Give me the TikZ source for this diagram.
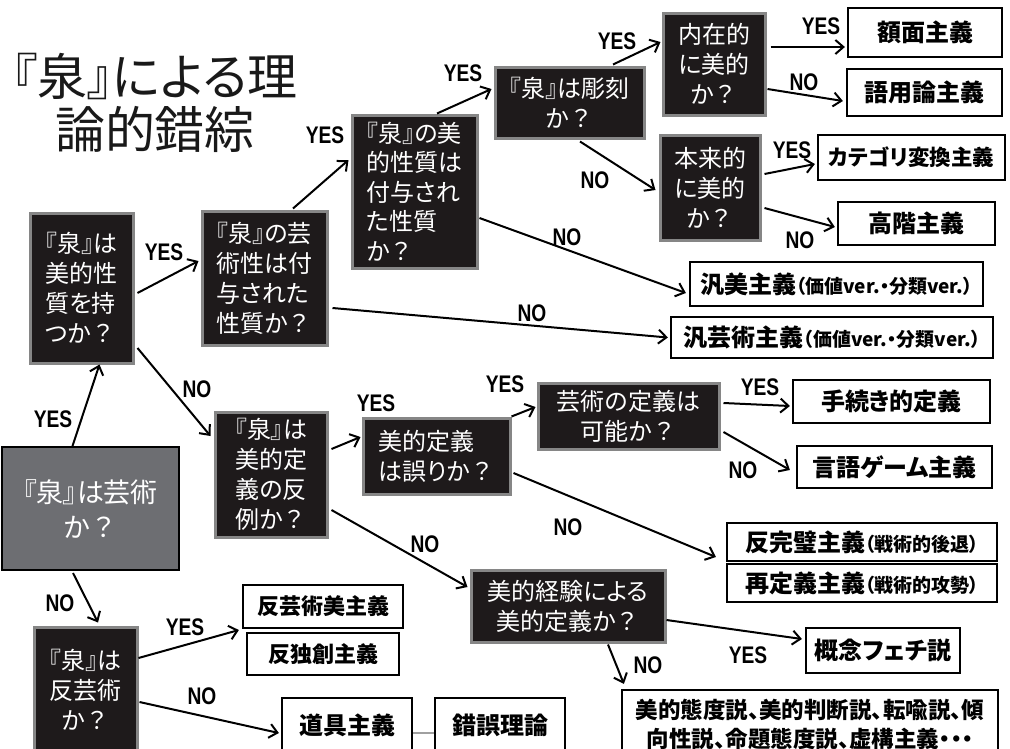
\documentclass[tikz,border=0pt]{standalone}
\usepackage{fontspec}
\newfontfamily\jp[RawFeature=+palt]{Noto Sans CJK JP}
\newfontfamily\jpfw{Noto Sans CJK JP}
\newfontfamily\lbl[FakeStretch=0.8]{Liberation Sans}
\usetikzlibrary{arrows.meta,calc}
\definecolor{qfill}{HTML}{1E1A1B}
\definecolor{qedge}{HTML}{868686}
\definecolor{sfill}{HTML}{6D6E72}
\definecolor{lnk}{HTML}{A0A0A0}
\tikzset{
  qbox/.style={draw=qedge, line width=3pt, fill=qfill, text=white, inner sep=0pt, align=center,
    font=\jp\fontsize{24}{30}\selectfont},
  sbox/.style={draw=black, line width=2pt, fill=sfill, text=white, inner sep=0pt, align=center,
    font=\jp\fontsize{27}{35}\selectfont},
  rbox/.style={draw=black, line width=2.2pt, fill=white, text=black, inner sep=0pt, align=center,
    font=\jp\bfseries\fontsize{24}{30}\selectfont},
  yn/.style={font=\lbl\bfseries\fontsize{24}{24}\selectfont, inner sep=0pt, text=black},
  arr/.style={-{Straight Barb[length=8pt,width=14pt]}, line width=2pt, draw=black},
  small/.style={font=\jp\bfseries\fontsize{#1}{#1}\selectfont},
}
\newcommand{\paren}[1]{{\fontsize{19}{19}\selectfont #1}}
\newcommand{\qm}{{\jpfw ？}}
\begin{document}
\begin{tikzpicture}[x=1pt,y=-1pt]
\useasboundingbox (0,0) rectangle (1010,748);
\clip (0,0) rectangle (1010,748);
\fill[white] (0,0) rectangle (1010,748);

% title
\node[font=\jp\fontsize{50}{53}\selectfont, align=center, inner sep=2pt, text=black!90] (title) at (155,103) {『泉』による理\\論的錯綜};

% question boxes
\node[sbox, minimum width=177pt, minimum height=123pt] (start) at (90.5,508.5) {『泉』は芸術\\か\qm};
\node[qbox, align=left, minimum width=103pt, minimum height=150pt] (q1) at (81.5,288) {『泉』は\\美的性\\質を持\\つか\qm};
\node[qbox, align=left, minimum width=125pt, minimum height=134pt] (q2) at (264.5,278) {『泉』の芸\\術性は付\\与された\\性質か\qm};
\node[qbox, align=left, minimum width=125pt, minimum height=153pt, font=\jp\fontsize{24}{29.5}\selectfont] (q3) at (414.5,191.5) {『泉』の美\\的性質は\\付与され\\た性質\\か\qm};
\node[qbox, minimum width=149pt, minimum height=71pt] (q4) at (569.5,102.5) {『泉』は彫刻\\か\qm};
\node[qbox, minimum width=102pt, minimum height=102pt] (q5) at (714,64) {内在的\\に美的\\か\qm};
\node[qbox, minimum width=100pt, minimum height=105pt] (q6) at (710,187.5) {本来的\\に美的\\か\qm};
\node[qbox, minimum width=112pt, minimum height=125pt] (q16) at (271,474.5) {『泉』は\\美的定\\義の反\\例か\qm};
\node[qbox, align=left, minimum width=147pt, minimum height=76pt] (q17) at (436.5,456) {美的定義\\は誤りか\qm};
\node[qbox, minimum width=181pt, minimum height=66pt] (q13) at (628.5,416) {芸術の定義は\\可能か\qm};
\node[qbox, minimum width=194pt, minimum height=72pt] (q26) at (568,606) {美的経験による\\美的定義か\qm};
\node[qbox, minimum width=103pt, minimum height=125pt] (q19) at (85.5,689.5) {『泉』は\\反芸術\\か\qm};

% result boxes
\node[rbox, minimum width=154pt, minimum height=49pt] (r1) at (925,32.5) {額面主義};
\node[rbox, minimum width=155pt, minimum height=47pt] (r2) at (924.5,92.5) {語用論主義};
\node[rbox, minimum width=187pt, minimum height=45pt, small=21.5] (r3) at (911.5,157.5) {カテゴリ変換主義};
\node[rbox, minimum width=157pt, minimum height=43pt] (r4) at (916.5,223.5) {高階主義};
\node[rbox, minimum width=293pt, minimum height=44pt] (r5) at (836.5,284) {汎美主義\paren{（価値ver.・分類ver.）}};
\node[rbox, minimum width=322pt, minimum height=41pt] (r6) at (832,337.5) {汎芸術主義\paren{（価値ver.・分類ver.）}};
\node[rbox, minimum width=197pt, minimum height=43pt] (r7) at (891.5,401.5) {手続き的定義};
\node[rbox, minimum width=195pt, minimum height=42pt] (r8) at (894.5,467) {言語ゲーム主義};
\node[rbox, minimum width=270pt, minimum height=38pt] (r9) at (862,542) {反完璧主義\paren{（戦術的後退）}};
\node[rbox, minimum width=270pt, minimum height=38pt] (r10) at (862,583) {再定義主義\paren{（戦術的攻勢）}};
\node[rbox, minimum width=154pt, minimum height=45pt] (r11) at (883,650.5) {概念フェチ説};
\node[rbox, minimum width=376pt, minimum height=68pt, font=\jp\bfseries\fontsize{22.5}{29}\selectfont] (r12) at (810,724) {美的態度説、美的判断説、転喩説、傾\\向性説、命題態度説、虚構主義・・・};
\node[rbox, minimum width=160pt, minimum height=43pt, small=22] (r13) at (323,606.5) {反芸術美主義};
\node[rbox, minimum width=152pt, minimum height=42pt, small=22] (r14) at (323,654) {反独創主義};
\node[rbox, minimum width=130pt, minimum height=54pt] (r15) at (347,725) {道具主義};
\node[rbox, minimum width=130pt, minimum height=54pt] (r16) at (500,725) {錯誤理論};

% connectors
\draw[arr] ([xshift=-18pt]start.north) -- ([xshift=18pt]q1.south);
\draw[arr] ([xshift=3pt,yshift=-5pt]q1.east) -- ([xshift=-2pt,yshift=17pt]q2.west);
\draw[arr] ([xshift=3pt,yshift=-60pt]q1.east) -- ([xshift=-3pt,yshift=38.5pt]q16.west);
\draw[arr] ([xshift=28.5pt,yshift=1pt]q2.north) -- ([xshift=-2pt,yshift=31.5pt]q3.west);
\draw[arr] ([xshift=22.5pt]q3.north) -- ([xshift=-2pt,yshift=13.5pt]q4.west);
\draw[arr] ([xshift=43.5pt,yshift=1pt]q4.north) -- ([xshift=-1pt,yshift=22pt]q5.west);
\draw[arr] ([xshift=4pt,yshift=17pt]q5.east) -- ([xshift=-2pt,yshift=-14.5pt]r1.west);
\draw[arr] ([xshift=1pt,yshift=-25pt]q5.east) -- ([xshift=-3pt,yshift=-8.5pt]r2.west);
\draw[arr] ([xshift=10.5pt,yshift=-2pt]q4.south) -- ([xshift=-3pt,yshift=-2.5pt]q6.west);
\draw[arr] ([xshift=3pt,yshift=13.5pt]q6.east) -- ([xshift=-2pt,yshift=-6.5pt]r3.west);
\draw[arr] ([xshift=3pt,yshift=-20.5pt]q6.east) -- ([xshift=-2pt,yshift=-3.5pt]r4.west);
\draw[arr] ([xshift=1pt,yshift=-26.5pt]q3.east) -- ([xshift=-3pt,yshift=-9pt]r5.west);
\draw[arr] ([xshift=4pt,yshift=-30pt]q2.east) -- ([xshift=-2pt]r6.west);
\draw[arr] ([xshift=3pt,yshift=25.5pt]q16.east) -- ([xshift=-1pt,yshift=19pt]q17.west);
\draw[arr] (q17.north east) -- ([xshift=-1pt,yshift=9pt]q13.west);
\draw[arr] ([xshift=3pt,yshift=13pt]q13.east) -- ([xshift=-2pt,yshift=-4.5pt]r7.west);
\draw[arr] ([xshift=3pt,yshift=-16pt]q13.east) -- ([xshift=-6pt,yshift=-3pt]r8.west);
\draw[arr] ([xshift=2pt,yshift=-17pt]q17.east) -- ([xshift=-10pt,yshift=-15pt]r9.west);
\draw[arr] ([xshift=3pt,yshift=-35.5pt]q16.east) -- ([xshift=-2pt,yshift=19pt]q26.west);
\draw[arr] ([yshift=-14pt]q26.east) -- ([xshift=-3pt,yshift=11.5pt]r11.west);
\draw[arr] ([xshift=40pt,yshift=-1pt]q26.south) -- ([xshift=3pt,yshift=5pt]r12.north west);
\draw[arr] ([xshift=-17.5pt,yshift=-2pt]start.south) -- ([xshift=12.5pt,yshift=3pt]q19.north);
\draw[arr] ([yshift=31.5pt]q19.east) -- ([xshift=-3pt,yshift=-23.5pt]r13.west);
\draw[arr] ([xshift=1pt,yshift=-12.5pt]q19.east) -- ([xshift=-2pt,yshift=-8pt]r15.west);
\draw[lnk, line width=2pt] ([yshift=-8pt]r15.east) -- ([yshift=-8pt]r16.west);

% labels
\node[yn] (la) at (53,419) {YES};
\node[yn] (lb) at (164,252) {YES};
\node[yn] (lc) at (197,389) {NO};
\node[yn] (ld) at (325,135) {YES};
\node[yn] (le) at (463,73) {YES};
\node[yn] (lf) at (617,41) {YES};
\node[yn] (lg) at (821,26) {YES};
\node[yn] (lh) at (804,82) {NO};
\node[yn] (li) at (595,180) {NO};
\node[yn] (lj) at (792,150) {YES};
\node[yn] (lk) at (800,240) {NO};
\node[yn] (ll) at (567,237) {NO};
\node[yn] (lm) at (532,313) {NO};
\node[yn] (ln) at (376,403) {YES};
\node[yn] (lo) at (505,384) {YES};
\node[yn] (lp) at (760,387) {YES};
\node[yn] (lq) at (743,470) {NO};
\node[yn] (lr) at (568,527) {NO};
\node[yn] (ls) at (425,544) {NO};
\node[yn] (lt) at (748,655) {YES};
\node[yn] (lu) at (648,665) {NO};
\node[yn] (lv) at (60,603) {NO};
\node[yn] (lw) at (185,627) {YES};
\node[yn] (lx) at (202,696) {NO};
\end{tikzpicture}
\end{document}
